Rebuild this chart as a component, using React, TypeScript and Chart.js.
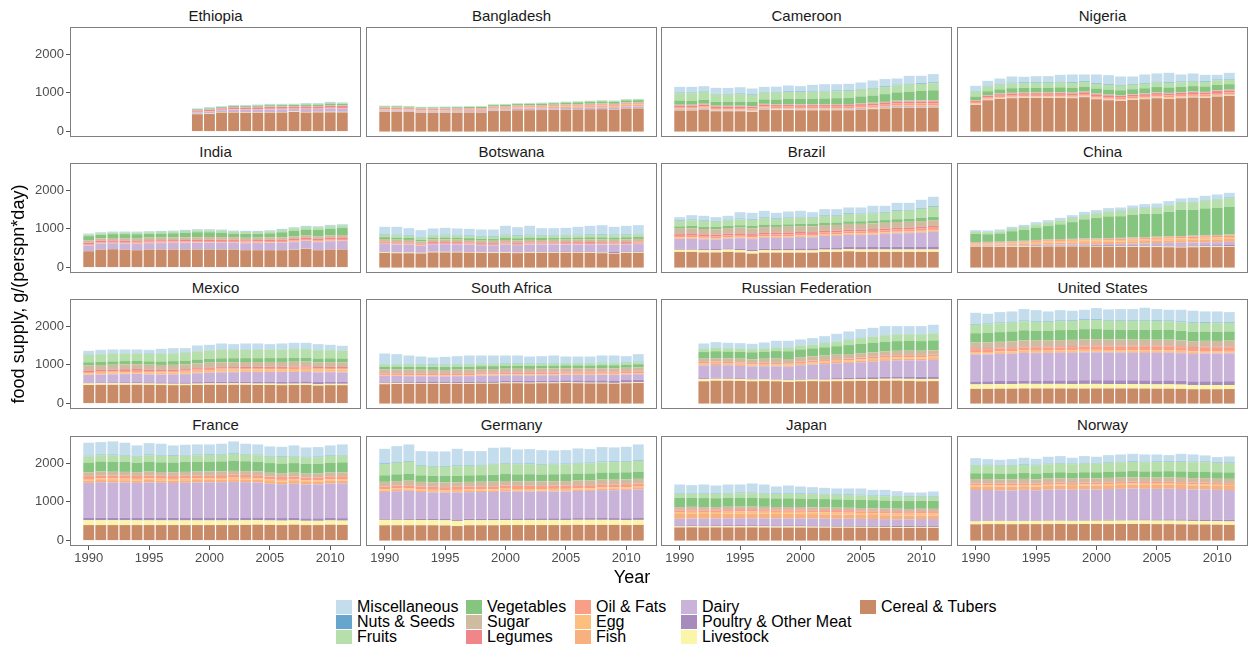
import React, { useEffect, useRef } from "react";
import { Chart, registerables } from "chart.js";
Chart.register(...registerables);

// ---------- data ----------
const YEARS = [1990, 1991, 1992, 1993, 1994, 1995, 1996, 1997, 1998, 1999, 2000, 2001, 2002, 2003, 2004, 2005, 2006, 2007, 2008, 2009, 2010, 2011];
const X_TICKS = [1990, 1995, 2000, 2005, 2010];
const Y_TICKS = [0, 1000, 2000];

// legend order (top of the stack first)
const CATEGORY_KEYS = ["misc", "nuts", "fruits", "veg", "sugar", "legumes", "oil", "egg", "fish", "dairy", "poultry", "livestock", "cereal"];
const CATEGORY_LABELS = ["Miscellaneous", "Nuts & Seeds", "Fruits", "Vegetables", "Sugar", "Legumes", "Oil & Fats", "Egg", "Fish", "Dairy", "Poultry & Other Meat", "Livestock", "Cereal & Tubers"];
const CATEGORY_COLORS = ["#c4ddec", "#67a5cf", "#b6dfac", "#85c57f", "#cfbb9f", "#f0868a", "#f99f88", "#fcbf7d", "#f6b17f", "#c9b3d8", "#a88bbd", "#fbf5aa", "#c98b67"];

type Series = Record<string, (number | null)[]>;
const N9 = [null, null, null, null, null, null, null, null, null];
const N2 = [null, null];

const ETHIOPIA: Series = {
  cereal: [...N9, 448, 455, 490, 492, 485, 487, 490, 492, 505, 492, 495, 497, 495],
  livestock: [...N9, 10, 10, 11, 11, 11, 12, 12, 12, 12, 13, 13, 13, 13],
  poultry: [...N9, 2, 2, 2, 2, 2, 2, 2, 2, 2, 2, 2, 2, 2],
  dairy: [...N9, 38, 45, 48, 60, 62, 65, 68, 68, 62, 75, 72, 85, 82],
  fish: [...N9, 1, 1, 1, 1, 1, 1, 1, 1, 1, 1, 1, 1, 1],
  egg: [...N9, 1, 1, 1, 1, 1, 1, 1, 1, 1, 1, 1, 1, 1],
  oil: [...N9, 12, 12, 13, 14, 14, 15, 15, 15, 15, 16, 16, 17, 17],
  legumes: [...N9, 30, 34, 32, 42, 40, 42, 45, 44, 44, 46, 45, 50, 48],
  sugar: [...N9, 12, 12, 12, 13, 14, 14, 15, 15, 15, 16, 16, 17, 17],
  veg: [...N9, 20, 25, 20, 25, 26, 30, 32, 33, 30, 35, 35, 40, 38],
  fruits: [...N9, 8, 10, 10, 10, 12, 12, 14, 14, 14, 15, 15, 18, 17],
  nuts: [...N9, 4, 5, 6, 6, 6, 6, 6, 6, 6, 6, 6, 7, 7],
  misc: [...N9, 9, 17, 8, 8, 10, 11, 15, 14, 12, 13, 14, 20, 18],
};

const BANGLADESH: Series = {
  cereal: [510, 512, 505, 485, 485, 485, 487, 490, 490, 530, 535, 550, 552, 555, 560, 565, 568, 575, 578, 565, 595, 598],
  livestock: [4, 4, 4, 4, 4, 4, 4, 4, 4, 4, 4, 4, 4, 4, 4, 4, 4, 4, 4, 4, 5, 5],
  poultry: [3, 3, 3, 3, 3, 3, 3, 3, 3, 3, 3, 3, 3, 3, 4, 4, 4, 4, 4, 4, 4, 4],
  dairy: [30, 30, 30, 30, 30, 30, 30, 31, 31, 32, 32, 33, 33, 34, 35, 36, 37, 38, 40, 40, 42, 42],
  fish: [22, 22, 23, 23, 24, 25, 26, 27, 28, 30, 32, 33, 34, 35, 36, 38, 40, 40, 42, 42, 44, 45],
  egg: [2, 2, 2, 2, 2, 3, 3, 3, 3, 3, 3, 3, 3, 3, 4, 4, 4, 4, 4, 5, 5, 5],
  oil: [12, 12, 13, 13, 13, 14, 14, 14, 15, 16, 16, 17, 17, 18, 18, 18, 19, 20, 20, 21, 22, 22],
  legumes: [22, 22, 21, 20, 20, 19, 18, 18, 17, 17, 16, 16, 16, 15, 15, 15, 15, 15, 16, 16, 16, 16],
  sugar: [18, 18, 17, 17, 17, 18, 18, 18, 18, 18, 18, 18, 18, 18, 18, 18, 19, 19, 20, 20, 20, 20],
  veg: [25, 25, 24, 24, 24, 25, 26, 26, 27, 30, 31, 33, 34, 36, 38, 42, 45, 48, 50, 52, 54, 55],
  fruits: [15, 15, 14, 13, 13, 14, 14, 15, 15, 17, 17, 18, 18, 18, 19, 21, 22, 22, 22, 22, 24, 24],
  nuts: [1, 1, 1, 1, 1, 1, 1, 1, 1, 1, 1, 1, 1, 1, 1, 1, 1, 1, 2, 2, 2, 2],
  misc: [5, 5, 5, 5, 5, 5, 6, 6, 6, 6, 6, 6, 6, 7, 7, 7, 7, 7, 8, 8, 8, 8],
};

const CAMEROON: Series = {
  cereal: [545, 545, 570, 525, 525, 525, 510, 570, 555, 555, 550, 550, 550, 550, 550, 570, 578, 595, 620, 620, 620, 622],
  livestock: [14, 14, 14, 13, 13, 13, 13, 13, 13, 13, 13, 13, 13, 13, 13, 13, 14, 14, 14, 14, 14, 14],
  poultry: [5, 5, 5, 5, 5, 5, 5, 5, 6, 6, 6, 6, 6, 6, 6, 6, 6, 6, 7, 7, 7, 7],
  dairy: [18, 18, 17, 16, 16, 16, 16, 16, 16, 17, 17, 17, 17, 17, 18, 18, 18, 18, 18, 18, 19, 19],
  fish: [16, 16, 16, 15, 15, 15, 15, 15, 16, 16, 16, 17, 17, 18, 18, 18, 18, 18, 19, 19, 20, 20],
  egg: [3, 3, 3, 3, 3, 3, 3, 3, 3, 3, 3, 3, 3, 3, 3, 3, 3, 3, 3, 3, 3, 3],
  oil: [30, 30, 30, 31, 31, 31, 32, 32, 32, 33, 33, 34, 34, 34, 35, 36, 38, 40, 42, 44, 45, 46],
  legumes: [40, 40, 41, 40, 40, 40, 40, 42, 42, 42, 42, 43, 43, 43, 44, 44, 45, 46, 47, 48, 50, 50],
  sugar: [22, 22, 22, 20, 20, 20, 20, 20, 21, 22, 22, 22, 23, 24, 24, 25, 26, 27, 28, 28, 29, 30],
  veg: [110, 100, 105, 100, 102, 105, 110, 115, 125, 135, 140, 145, 150, 155, 160, 175, 185, 200, 215, 230, 240, 255],
  fruits: [190, 200, 210, 190, 185, 195, 180, 175, 180, 180, 180, 178, 180, 182, 180, 178, 180, 182, 180, 185, 182, 185],
  nuts: [12, 12, 12, 12, 12, 12, 12, 12, 13, 13, 13, 13, 14, 14, 14, 14, 15, 15, 15, 16, 16, 17],
  misc: [150, 150, 127, 159, 160, 165, 156, 137, 139, 155, 140, 166, 174, 165, 169, 167, 193, 192, 162, 208, 196, 215],
};

const NIGERIA: Series = {
  cereal: [690, 810, 845, 862, 870, 870, 870, 870, 862, 888, 836, 810, 793, 819, 836, 862, 845, 862, 879, 870, 905, 922],
  livestock: [10, 10, 10, 10, 10, 10, 10, 10, 10, 10, 10, 10, 10, 10, 10, 10, 10, 10, 10, 10, 10, 10],
  poultry: [3, 3, 3, 3, 3, 3, 3, 3, 3, 3, 3, 3, 3, 3, 3, 3, 3, 3, 3, 3, 3, 3],
  dairy: [10, 10, 9, 9, 9, 9, 9, 9, 9, 9, 9, 9, 9, 9, 9, 9, 9, 9, 9, 9, 9, 9],
  fish: [12, 12, 12, 12, 12, 12, 12, 12, 12, 12, 12, 12, 12, 13, 14, 15, 16, 16, 16, 16, 17, 17],
  egg: [5, 5, 5, 5, 5, 5, 5, 5, 5, 5, 5, 5, 5, 5, 5, 5, 5, 5, 5, 5, 5, 5],
  oil: [35, 38, 40, 40, 40, 40, 40, 40, 40, 42, 42, 42, 42, 42, 44, 45, 45, 45, 46, 46, 47, 47],
  legumes: [35, 38, 40, 42, 42, 42, 42, 45, 45, 45, 45, 45, 45, 45, 45, 45, 48, 48, 48, 48, 50, 50],
  sugar: [15, 16, 17, 17, 17, 18, 18, 18, 18, 18, 18, 18, 18, 18, 18, 18, 18, 18, 18, 18, 19, 19],
  veg: [90, 100, 110, 120, 120, 125, 125, 130, 130, 130, 132, 132, 130, 130, 135, 138, 140, 140, 140, 140, 142, 142],
  fruits: [130, 125, 125, 125, 125, 125, 125, 125, 122, 122, 120, 120, 120, 118, 118, 118, 118, 118, 118, 118, 118, 118],
  nuts: [12, 13, 14, 15, 15, 15, 15, 16, 16, 16, 16, 16, 16, 16, 16, 16, 16, 16, 16, 16, 16, 16],
  misc: [134, 130, 140, 162, 147, 157, 157, 183, 202, 174, 226, 235, 219, 194, 221, 216, 244, 184, 192, 167, 125, 159],
};

const INDIA: Series = {
  cereal: [422, 466, 474, 466, 448, 466, 466, 466, 466, 466, 466, 466, 466, 448, 448, 448, 448, 457, 483, 448, 466, 466],
  livestock: [4, 4, 4, 4, 4, 4, 4, 4, 4, 4, 4, 4, 4, 4, 4, 4, 4, 4, 4, 4, 4, 4],
  poultry: [1, 1, 1, 1, 1, 2, 2, 2, 2, 2, 2, 3, 3, 3, 3, 4, 4, 4, 5, 5, 5, 5],
  dairy: [145, 150, 150, 152, 155, 158, 160, 162, 165, 168, 170, 172, 172, 175, 178, 182, 185, 190, 195, 200, 205, 210],
  fish: [9, 9, 9, 9, 10, 10, 10, 10, 10, 10, 11, 11, 11, 12, 12, 12, 12, 13, 13, 13, 14, 14],
  egg: [2, 2, 2, 2, 3, 3, 3, 3, 3, 3, 3, 3, 4, 4, 4, 4, 4, 4, 4, 5, 5, 5],
  oil: [22, 22, 23, 23, 24, 25, 26, 26, 27, 28, 28, 28, 28, 29, 30, 30, 31, 32, 32, 33, 34, 34],
  legumes: [40, 40, 37, 37, 36, 38, 36, 36, 35, 34, 35, 33, 33, 30, 32, 33, 34, 36, 37, 36, 38, 40],
  sugar: [62, 62, 64, 66, 66, 67, 67, 68, 68, 68, 68, 66, 64, 63, 62, 62, 62, 62, 62, 62, 62, 62],
  veg: [105, 93, 100, 104, 115, 100, 105, 109, 119, 131, 125, 116, 93, 101, 96, 106, 128, 149, 148, 168, 172, 181],
  fruits: [38, 38, 40, 40, 42, 40, 42, 44, 46, 48, 50, 52, 50, 50, 50, 52, 56, 60, 62, 62, 64, 66],
  nuts: [7, 7, 7, 7, 7, 7, 7, 7, 7, 7, 7, 7, 7, 7, 7, 7, 8, 8, 8, 8, 8, 8],
  misc: [22, 20, 20, 20, 20, 20, 20, 20, 22, 22, 22, 22, 22, 22, 22, 22, 24, 24, 25, 25, 26, 26],
};

const BOTSWANA: Series = {
  cereal: [380, 370, 370, 365, 390, 390, 390, 385, 380, 375, 378, 372, 378, 382, 380, 382, 382, 378, 372, 360, 378, 380],
  livestock: [18, 18, 18, 17, 17, 17, 17, 17, 16, 16, 16, 16, 16, 16, 16, 16, 16, 16, 15, 15, 15, 15],
  poultry: [10, 10, 10, 10, 10, 12, 12, 12, 12, 14, 14, 16, 16, 16, 18, 18, 18, 20, 22, 30, 22, 22],
  dairy: [200, 195, 190, 170, 185, 185, 180, 175, 170, 170, 180, 175, 180, 175, 180, 180, 180, 185, 185, 185, 185, 190],
  fish: [4, 4, 4, 4, 4, 4, 4, 4, 4, 4, 4, 4, 4, 4, 4, 4, 4, 4, 4, 4, 4, 4],
  egg: [4, 4, 4, 4, 4, 4, 4, 4, 4, 4, 4, 4, 4, 4, 4, 4, 4, 4, 5, 5, 5, 5],
  oil: [25, 25, 25, 22, 25, 25, 25, 25, 25, 25, 25, 25, 25, 25, 25, 28, 28, 28, 28, 28, 28, 30],
  legumes: [25, 25, 25, 22, 24, 24, 24, 24, 22, 22, 24, 24, 24, 24, 24, 24, 24, 24, 24, 24, 24, 24],
  sugar: [70, 70, 68, 60, 65, 66, 66, 65, 62, 62, 68, 66, 68, 65, 66, 66, 68, 68, 70, 68, 68, 70],
  veg: [50, 52, 50, 45, 50, 50, 50, 48, 45, 45, 60, 55, 58, 52, 52, 50, 52, 55, 55, 55, 55, 56],
  fruits: [60, 62, 58, 55, 55, 58, 58, 55, 55, 55, 62, 60, 62, 58, 56, 58, 58, 62, 62, 62, 62, 62],
  nuts: [12, 12, 12, 12, 12, 12, 12, 12, 12, 12, 12, 12, 12, 12, 12, 12, 12, 12, 12, 12, 12, 12],
  misc: [194, 205, 183, 180, 168, 179, 167, 174, 176, 179, 231, 214, 231, 184, 180, 184, 206, 222, 241, 204, 220, 225],
};

const BRAZIL: Series = {
  cereal: [405, 405, 390, 390, 405, 390, 360, 385, 385, 385, 385, 385, 405, 405, 420, 405, 405, 405, 405, 405, 405, 405],
  livestock: [55, 55, 58, 58, 60, 62, 62, 62, 62, 60, 60, 58, 58, 58, 60, 62, 62, 62, 62, 62, 62, 62],
  poultry: [25, 25, 28, 30, 30, 35, 38, 40, 42, 45, 48, 50, 52, 55, 58, 62, 65, 68, 70, 72, 75, 78],
  dairy: [255, 260, 255, 245, 255, 270, 275, 280, 280, 285, 295, 290, 300, 300, 305, 310, 320, 330, 345, 350, 360, 380],
  fish: [18, 18, 18, 18, 18, 18, 20, 20, 20, 20, 20, 20, 20, 20, 20, 22, 22, 22, 22, 22, 24, 24],
  egg: [20, 20, 20, 20, 20, 20, 20, 20, 20, 20, 20, 20, 20, 20, 20, 22, 22, 22, 22, 22, 24, 24],
  oil: [40, 40, 42, 42, 42, 42, 44, 44, 45, 45, 45, 46, 48, 48, 50, 50, 52, 52, 55, 55, 55, 56],
  legumes: [45, 45, 45, 45, 45, 45, 45, 45, 45, 45, 45, 45, 45, 45, 45, 45, 45, 45, 45, 45, 46, 46],
  sugar: [140, 145, 140, 140, 145, 150, 150, 150, 150, 150, 150, 150, 150, 150, 150, 150, 150, 150, 150, 150, 150, 150],
  veg: [60, 60, 60, 60, 60, 62, 62, 62, 60, 62, 62, 62, 62, 62, 65, 68, 68, 70, 72, 75, 80, 85],
  fruits: [140, 150, 150, 140, 140, 155, 155, 170, 145, 160, 165, 160, 175, 175, 190, 180, 190, 190, 215, 215, 240, 260],
  nuts: [12, 12, 12, 12, 12, 12, 12, 12, 12, 12, 12, 12, 12, 13, 13, 14, 14, 14, 15, 15, 16, 17],
  misc: [87, 118, 118, 102, 104, 170, 171, 176, 148, 159, 159, 133, 162, 158, 156, 162, 180, 165, 194, 184, 213, 241],
};

const CHINA: Series = {
  cereal: [540, 540, 535, 535, 535, 540, 545, 545, 545, 545, 540, 540, 535, 535, 530, 530, 525, 520, 525, 530, 530, 535],
  livestock: [12, 12, 13, 14, 15, 16, 16, 17, 17, 17, 17, 17, 17, 17, 17, 17, 18, 18, 18, 18, 18, 18],
  poultry: [8, 9, 10, 11, 13, 15, 16, 17, 18, 19, 20, 21, 22, 23, 24, 25, 26, 27, 28, 29, 30, 30],
  dairy: [10, 10, 11, 12, 14, 16, 17, 18, 20, 22, 25, 30, 38, 45, 55, 62, 70, 75, 75, 75, 78, 80],
  fish: [25, 27, 30, 34, 38, 42, 46, 50, 52, 54, 55, 56, 57, 58, 60, 62, 65, 68, 70, 72, 74, 76],
  egg: [18, 19, 21, 24, 28, 34, 40, 38, 39, 41, 42, 43, 44, 44, 45, 46, 46, 47, 48, 49, 50, 50],
  oil: [18, 19, 20, 21, 22, 23, 24, 25, 25, 26, 27, 28, 29, 30, 31, 32, 33, 34, 35, 36, 37, 38],
  legumes: [6, 6, 6, 6, 5, 5, 5, 5, 5, 5, 5, 5, 5, 5, 5, 5, 5, 5, 5, 5, 5, 5],
  sugar: [22, 22, 22, 22, 22, 22, 22, 22, 20, 20, 20, 20, 20, 20, 20, 20, 20, 20, 20, 20, 20, 20],
  veg: [212, 196, 213, 260, 287, 321, 341, 380, 432, 496, 528, 562, 559, 588, 601, 592, 629, 677, 669, 694, 704, 718],
  fruits: [50, 52, 55, 62, 70, 80, 90, 100, 108, 118, 125, 130, 138, 145, 152, 160, 170, 180, 190, 200, 212, 225],
  nuts: [5, 5, 5, 6, 6, 6, 6, 7, 7, 7, 7, 8, 8, 8, 8, 9, 9, 9, 9, 10, 10, 10],
  misc: [40, 40, 42, 45, 48, 52, 56, 60, 65, 70, 72, 75, 80, 85, 90, 95, 100, 105, 110, 115, 120, 125],
};

const MEXICO: Series = {
  cereal: [480, 485, 485, 485, 485, 482, 478, 475, 475, 480, 485, 485, 485, 485, 480, 480, 475, 478, 480, 465, 475, 475],
  livestock: [40, 38, 38, 38, 38, 36, 36, 36, 35, 35, 35, 35, 36, 36, 36, 36, 36, 36, 36, 35, 35, 35],
  poultry: [22, 24, 26, 28, 30, 30, 32, 34, 36, 38, 40, 42, 44, 46, 48, 50, 52, 54, 56, 56, 56, 57],
  dairy: [195, 200, 205, 210, 210, 205, 200, 205, 215, 230, 240, 245, 245, 248, 250, 250, 252, 250, 250, 250, 245, 240],
  fish: [15, 15, 15, 15, 15, 15, 14, 14, 14, 15, 15, 16, 16, 17, 17, 18, 18, 19, 19, 19, 19, 19],
  egg: [30, 32, 34, 36, 38, 40, 42, 44, 46, 48, 50, 52, 52, 52, 52, 53, 54, 54, 55, 55, 55, 55],
  oil: [30, 30, 30, 30, 30, 30, 30, 30, 30, 32, 32, 32, 32, 32, 32, 33, 33, 34, 34, 34, 34, 34],
  legumes: [45, 45, 45, 45, 45, 42, 40, 38, 38, 35, 35, 33, 32, 32, 32, 30, 30, 30, 30, 30, 30, 30],
  sugar: [125, 125, 125, 125, 125, 125, 125, 125, 125, 125, 125, 125, 125, 125, 125, 125, 125, 125, 125, 120, 120, 120],
  veg: [85, 85, 85, 85, 85, 85, 90, 95, 95, 100, 100, 105, 105, 100, 100, 100, 100, 100, 100, 100, 100, 100],
  fruits: [190, 195, 200, 195, 190, 190, 200, 200, 200, 210, 210, 220, 215, 215, 215, 220, 220, 225, 220, 215, 210, 205],
  nuts: [6, 6, 6, 6, 6, 6, 6, 6, 6, 6, 6, 6, 6, 6, 6, 6, 6, 6, 6, 6, 6, 6],
  misc: [99, 108, 103, 99, 100, 102, 121, 129, 116, 146, 144, 156, 142, 158, 159, 134, 151, 158, 158, 150, 132, 115],
};

const SOUTH_AFRICA: Series = {
  cereal: [500, 505, 505, 510, 510, 505, 510, 505, 515, 515, 525, 525, 520, 525, 525, 530, 525, 520, 520, 515, 525, 530],
  livestock: [22, 21, 20, 19, 18, 18, 18, 18, 18, 18, 18, 18, 18, 18, 18, 18, 18, 18, 18, 18, 18, 18],
  poultry: [25, 26, 27, 28, 30, 32, 34, 36, 38, 40, 42, 44, 46, 48, 50, 52, 55, 58, 60, 62, 64, 66],
  dairy: [165, 160, 155, 150, 145, 145, 145, 150, 150, 148, 145, 142, 140, 140, 140, 140, 140, 140, 142, 142, 142, 145],
  fish: [15, 15, 15, 15, 15, 15, 15, 15, 15, 15, 15, 15, 15, 15, 15, 15, 15, 15, 15, 15, 15, 15],
  egg: [13, 13, 13, 13, 13, 13, 14, 14, 14, 14, 14, 14, 15, 15, 15, 15, 16, 16, 16, 16, 16, 16],
  oil: [35, 35, 35, 35, 35, 35, 36, 36, 36, 36, 38, 38, 38, 40, 40, 40, 40, 40, 40, 40, 42, 42],
  legumes: [15, 15, 15, 15, 15, 15, 15, 15, 15, 15, 15, 15, 15, 15, 15, 15, 15, 15, 15, 15, 15, 15],
  sugar: [95, 95, 95, 90, 90, 90, 90, 90, 90, 90, 88, 88, 88, 88, 88, 88, 88, 88, 88, 88, 88, 88],
  veg: [70, 70, 72, 75, 75, 75, 75, 75, 75, 75, 75, 75, 75, 75, 75, 75, 75, 75, 78, 78, 80, 82],
  fruits: [55, 55, 55, 50, 50, 50, 50, 50, 50, 50, 50, 50, 48, 48, 48, 48, 48, 48, 50, 50, 50, 52],
  nuts: [10, 10, 10, 10, 10, 10, 10, 10, 10, 10, 10, 10, 10, 10, 10, 10, 10, 10, 10, 10, 10, 10],
  misc: [273, 256, 224, 205, 184, 204, 212, 227, 215, 215, 206, 207, 187, 187, 202, 169, 170, 172, 189, 192, 159, 197],
};

const RUSSIA: Series = {
  cereal: [...N2, 575, 590, 590, 585, 575, 580, 575, 560, 575, 580, 575, 578, 580, 585, 585, 590, 590, 585, 575, 580],
  livestock: [...N2, 55, 52, 50, 48, 45, 43, 42, 40, 40, 40, 42, 44, 45, 46, 48, 50, 52, 54, 55, 56],
  poultry: [...N2, 25, 22, 20, 20, 20, 22, 24, 22, 25, 28, 32, 36, 40, 45, 48, 52, 55, 58, 60, 62],
  dairy: [...N2, 330, 330, 330, 320, 320, 320, 320, 330, 350, 360, 370, 380, 385, 390, 400, 410, 420, 420, 425, 430],
  fish: [...N2, 30, 28, 25, 25, 25, 25, 25, 25, 28, 30, 32, 35, 38, 40, 42, 45, 45, 45, 45, 45],
  egg: [...N2, 30, 30, 30, 30, 30, 30, 30, 30, 30, 30, 32, 32, 33, 34, 35, 36, 37, 38, 38, 38],
  oil: [...N2, 30, 30, 30, 30, 30, 32, 34, 34, 36, 38, 40, 42, 44, 46, 48, 48, 48, 50, 50, 50],
  legumes: [...N2, 5, 5, 5, 5, 5, 5, 5, 5, 5, 5, 5, 5, 5, 5, 5, 5, 5, 5, 5, 5],
  sugar: [...N2, 80, 85, 90, 95, 95, 100, 105, 105, 110, 110, 110, 110, 110, 110, 110, 110, 110, 110, 110, 110],
  veg: [...N2, 170, 180, 175, 180, 180, 185, 195, 200, 200, 205, 215, 220, 230, 240, 245, 250, 250, 250, 250, 255],
  fruits: [...N2, 85, 90, 85, 80, 80, 85, 85, 90, 95, 100, 110, 120, 135, 150, 160, 170, 175, 175, 175, 180],
  nuts: [...N2, 5, 5, 5, 5, 5, 5, 5, 5, 5, 5, 5, 5, 5, 5, 5, 6, 6, 6, 6, 6],
  misc: [...N2, 132, 139, 134, 137, 133, 146, 176, 175, 156, 159, 173, 195, 212, 226, 226, 228, 207, 204, 206, 217],
};

const UNITED_STATES: Series = {
  cereal: [380, 380, 385, 385, 390, 390, 390, 390, 388, 388, 390, 390, 390, 390, 388, 385, 385, 380, 370, 370, 370, 375],
  livestock: [115, 118, 118, 118, 120, 118, 118, 118, 118, 120, 118, 115, 112, 112, 110, 110, 112, 110, 105, 108, 105, 105],
  poultry: [75, 78, 80, 82, 85, 85, 88, 90, 92, 95, 95, 98, 100, 100, 102, 102, 102, 100, 98, 98, 98, 98],
  dairy: [700, 695, 700, 705, 715, 710, 710, 715, 715, 720, 720, 715, 715, 710, 710, 715, 715, 712, 712, 720, 720, 720],
  fish: [20, 20, 20, 20, 20, 20, 20, 20, 20, 22, 22, 22, 22, 22, 22, 22, 22, 22, 22, 22, 22, 22],
  egg: [40, 40, 40, 40, 40, 40, 40, 40, 40, 42, 42, 42, 42, 42, 42, 42, 42, 40, 40, 40, 40, 40],
  oil: [75, 75, 78, 80, 82, 80, 80, 82, 85, 88, 90, 90, 92, 95, 95, 95, 95, 92, 92, 90, 90, 92],
  legumes: [22, 22, 22, 22, 22, 22, 22, 22, 22, 22, 22, 22, 22, 22, 22, 22, 22, 22, 22, 22, 22, 22],
  sugar: [150, 150, 152, 155, 158, 160, 160, 162, 165, 165, 162, 160, 158, 158, 158, 155, 155, 152, 150, 150, 150, 150],
  veg: [240, 245, 250, 255, 260, 255, 255, 258, 258, 260, 262, 258, 255, 255, 258, 255, 250, 248, 245, 240, 240, 238],
  fruits: [220, 225, 230, 232, 235, 232, 230, 232, 232, 235, 235, 230, 230, 232, 232, 230, 228, 225, 222, 220, 220, 220],
  nuts: [15, 15, 15, 15, 15, 15, 15, 15, 15, 15, 15, 15, 15, 15, 15, 15, 15, 15, 15, 15, 15, 15],
  misc: [293, 256, 272, 270, 298, 287, 251, 270, 247, 250, 293, 274, 287, 287, 320, 292, 279, 304, 304, 284, 287, 265],
};

const FRANCE: Series = {
  cereal: [400, 400, 400, 400, 400, 400, 400, 400, 400, 400, 400, 400, 400, 405, 410, 405, 400, 410, 400, 400, 410, 405],
  livestock: [125, 125, 125, 125, 122, 122, 122, 120, 120, 120, 120, 120, 120, 118, 118, 115, 115, 112, 110, 110, 110, 110],
  poultry: [60, 62, 64, 66, 68, 70, 70, 72, 72, 74, 74, 72, 70, 70, 68, 66, 66, 65, 64, 64, 64, 64],
  dairy: [905, 920, 910, 905, 900, 910, 900, 895, 900, 905, 910, 915, 925, 915, 905, 880, 875, 880, 870, 875, 890, 900],
  fish: [60, 60, 62, 62, 62, 64, 64, 64, 66, 66, 66, 68, 68, 70, 70, 70, 70, 70, 68, 68, 68, 68],
  egg: [40, 40, 40, 40, 40, 40, 40, 40, 40, 40, 40, 40, 40, 40, 40, 40, 40, 40, 40, 40, 40, 40],
  oil: [75, 75, 75, 75, 75, 75, 75, 75, 75, 75, 75, 75, 75, 75, 75, 75, 75, 75, 75, 75, 75, 75],
  legumes: [5, 5, 5, 5, 5, 5, 5, 5, 5, 5, 5, 5, 5, 5, 5, 5, 5, 5, 5, 5, 5, 5],
  sugar: [95, 95, 95, 95, 95, 95, 95, 95, 95, 95, 95, 95, 95, 95, 95, 95, 95, 95, 95, 95, 95, 95],
  veg: [250, 260, 260, 255, 240, 255, 250, 250, 255, 255, 255, 255, 265, 255, 250, 250, 248, 248, 250, 250, 255, 258],
  fruits: [160, 165, 170, 165, 165, 170, 170, 168, 168, 170, 170, 172, 175, 172, 168, 168, 168, 170, 172, 172, 175, 175],
  nuts: [12, 12, 12, 12, 12, 12, 12, 12, 12, 12, 12, 12, 12, 12, 12, 12, 12, 12, 12, 12, 12, 12],
  misc: [339, 324, 342, 321, 273, 299, 297, 261, 266, 266, 261, 271, 310, 268, 267, 250, 253, 275, 244, 248, 258, 276],
};

const GERMANY: Series = {
  cereal: [395, 395, 395, 395, 395, 390, 375, 395, 395, 395, 400, 400, 400, 400, 400, 400, 405, 405, 405, 405, 400, 405],
  livestock: [140, 140, 138, 136, 136, 134, 132, 130, 130, 130, 130, 132, 132, 132, 132, 132, 130, 130, 130, 128, 128, 128],
  poultry: [30, 30, 32, 32, 34, 34, 36, 36, 38, 40, 40, 40, 42, 42, 44, 44, 46, 46, 48, 48, 50, 50],
  dairy: [690, 710, 720, 690, 680, 680, 700, 690, 690, 690, 700, 690, 690, 685, 690, 690, 700, 700, 720, 720, 730, 740],
  fish: [30, 30, 30, 30, 30, 30, 32, 32, 32, 32, 34, 34, 34, 34, 34, 34, 34, 34, 34, 34, 34, 34],
  egg: [36, 36, 36, 34, 34, 34, 34, 34, 34, 34, 34, 34, 34, 34, 34, 34, 34, 34, 34, 34, 34, 34],
  oil: [75, 75, 75, 78, 78, 78, 78, 78, 80, 80, 80, 80, 80, 80, 80, 82, 82, 82, 82, 82, 82, 82],
  legumes: [5, 5, 5, 5, 5, 5, 5, 5, 5, 5, 5, 5, 5, 5, 5, 5, 5, 5, 5, 5, 5, 5],
  sugar: [115, 115, 115, 115, 115, 115, 115, 115, 115, 115, 115, 115, 115, 115, 115, 115, 115, 115, 115, 115, 115, 115],
  veg: [170, 175, 180, 170, 165, 170, 165, 170, 170, 175, 180, 180, 182, 180, 178, 180, 180, 182, 185, 185, 185, 185],
  fruits: [290, 300, 310, 250, 240, 240, 250, 250, 250, 270, 270, 260, 260, 255, 255, 255, 260, 262, 265, 270, 275, 280],
  nuts: [15, 15, 15, 15, 15, 15, 15, 15, 15, 15, 15, 15, 15, 15, 15, 15, 15, 15, 15, 15, 15, 15],
  misc: [379, 414, 432, 360, 375, 377, 433, 360, 356, 415, 402, 368, 373, 359, 345, 350, 373, 352, 376, 364, 369, 410],
};

const JAPAN: Series = {
  cereal: [340, 342, 338, 340, 340, 340, 340, 338, 336, 336, 336, 334, 334, 332, 332, 330, 330, 328, 326, 325, 328, 328],
  livestock: [25, 26, 27, 28, 29, 29, 28, 28, 28, 29, 29, 26, 25, 24, 24, 24, 24, 24, 24, 24, 24, 24],
  poultry: [27, 28, 28, 29, 30, 30, 30, 30, 30, 30, 31, 31, 31, 32, 32, 32, 32, 32, 33, 33, 34, 34],
  dairy: [170, 172, 172, 172, 175, 178, 178, 178, 178, 178, 178, 178, 176, 176, 175, 174, 172, 170, 168, 168, 170, 170],
  fish: [125, 125, 122, 120, 122, 122, 122, 120, 118, 118, 117, 115, 112, 110, 108, 105, 103, 100, 98, 96, 95, 93],
  egg: [48, 48, 49, 49, 49, 49, 49, 49, 49, 49, 49, 48, 48, 48, 48, 48, 48, 48, 48, 47, 47, 47],
  oil: [42, 42, 42, 42, 42, 43, 43, 43, 43, 43, 43, 43, 43, 43, 43, 43, 42, 42, 42, 41, 41, 41],
  legumes: [18, 18, 18, 18, 18, 18, 18, 18, 18, 18, 18, 18, 18, 18, 18, 18, 18, 18, 18, 18, 18, 18],
  sugar: [70, 70, 69, 68, 67, 67, 67, 66, 66, 66, 66, 66, 66, 66, 66, 66, 65, 65, 65, 64, 64, 64],
  veg: [235, 232, 232, 228, 228, 230, 228, 225, 222, 224, 220, 220, 218, 216, 212, 212, 210, 208, 206, 204, 204, 206],
  fruits: [110, 110, 114, 114, 116, 118, 120, 118, 116, 118, 118, 120, 120, 118, 118, 118, 116, 113, 108, 108, 108, 108],
  nuts: [12, 12, 12, 12, 12, 12, 12, 12, 12, 12, 12, 12, 12, 12, 12, 12, 12, 12, 12, 12, 12, 12],
  misc: [226, 206, 225, 202, 220, 212, 239, 223, 181, 201, 180, 168, 159, 150, 157, 163, 138, 150, 128, 101, 96, 122],
};

const NORWAY: Series = {
  cereal: [420, 425, 425, 422, 425, 425, 425, 428, 425, 428, 428, 425, 428, 428, 428, 425, 425, 420, 415, 415, 410, 405],
  livestock: [75, 80, 82, 80, 82, 82, 85, 85, 85, 85, 85, 88, 88, 90, 90, 90, 90, 92, 92, 90, 90, 90],
  poultry: [10, 10, 10, 10, 12, 12, 14, 15, 16, 18, 20, 22, 24, 26, 28, 30, 32, 34, 36, 38, 38, 40],
  dairy: [800, 790, 780, 785, 790, 780, 790, 795, 785, 790, 785, 795, 795, 800, 790, 790, 790, 785, 780, 780, 770, 770],
  fish: [95, 95, 95, 95, 95, 95, 98, 98, 98, 100, 100, 100, 102, 102, 102, 104, 104, 104, 104, 104, 104, 104],
  egg: [28, 28, 28, 28, 28, 28, 28, 28, 28, 28, 28, 28, 28, 28, 28, 28, 28, 28, 28, 28, 28, 28],
  oil: [45, 45, 45, 45, 45, 45, 45, 45, 45, 45, 45, 45, 45, 45, 45, 45, 45, 45, 45, 45, 45, 45],
  legumes: [5, 5, 5, 5, 5, 5, 5, 5, 5, 5, 5, 5, 5, 5, 5, 5, 5, 5, 5, 5, 5, 5],
  sugar: [110, 110, 110, 110, 110, 110, 110, 110, 110, 110, 110, 110, 110, 108, 108, 108, 108, 108, 108, 108, 106, 106],
  veg: [150, 150, 150, 152, 152, 152, 155, 155, 155, 155, 158, 160, 160, 162, 162, 162, 165, 165, 165, 168, 168, 168],
  fruits: [200, 205, 205, 205, 210, 210, 215, 220, 220, 225, 225, 230, 235, 235, 235, 240, 240, 245, 245, 245, 240, 240],
  nuts: [12, 12, 12, 12, 12, 12, 12, 12, 12, 12, 12, 12, 12, 12, 12, 12, 12, 12, 12, 12, 12, 12],
  misc: [179, 148, 139, 154, 172, 156, 182, 185, 154, 180, 163, 187, 192, 200, 191, 185, 163, 198, 189, 160, 139, 159],
};

const COUNTRY_NAMES = ["Ethiopia", "Bangladesh", "Cameroon", "Nigeria", "India", "Botswana", "Brazil", "China", "Mexico", "South Africa", "Russian Federation", "United States", "France", "Germany", "Japan", "Norway"];
const COUNTRY_DATA = [ETHIOPIA, BANGLADESH, CAMEROON, NIGERIA, INDIA, BOTSWANA, BRAZIL, CHINA, MEXICO, SOUTH_AFRICA, RUSSIA, UNITED_STATES, FRANCE, GERMANY, JAPAN, NORWAY];

// ---------- layout ----------
const FONT = "'Liberation Sans', Arial, Helvetica, sans-serif";
const COL_X = [70, 366, 661, 957];
const ROW_Y = [27, 163, 299, 436];
const PANEL_W = 291;
const PANEL_H = 110;
const Y_AXIS_W = 62;
const X_AXIS_H = 22;
const Y_MIN = -140;
const Y_MAX = 2700;
const X_MIN = 1988.45;
const X_MAX = 2012.55;

const panelBorder = {
  id: "panelBorder",
  afterDatasetsDraw(chart: any) {
    const { ctx, chartArea: a } = chart;
    ctx.save();
    ctx.strokeStyle = "#7f7f7f";
    ctx.lineWidth = 1;
    ctx.strokeRect(a.left + 0.5, a.top + 0.5, a.right - a.left - 1, a.bottom - a.top - 1);
    ctx.restore();
  },
};

function zeroPadding(s: any) {
  s.paddingTop = 0;
  s.paddingBottom = 0;
  s.paddingLeft = 0;
  s.paddingRight = 0;
}

function Panel({ index }: { index: number }) {
  const ref = useRef<HTMLCanvasElement>(null);
  const col = index % 4;
  const row = Math.floor(index / 4);
  const isLeft = col === 0;
  const isBottom = row === 3;
  const w = PANEL_W + (isLeft ? Y_AXIS_W : 0);
  const h = PANEL_H + (isBottom ? X_AXIS_H : 0);
  const data = COUNTRY_DATA[index];

  useEffect(() => {
    if (!ref.current) return;
    const stackKeys = [...CATEGORY_KEYS].reverse();
    const stackColors = [...CATEGORY_COLORS].reverse();
    const stackLabels = [...CATEGORY_LABELS].reverse();
    const datasets = stackKeys.map((k, i) => ({
      label: stackLabels[i],
      data: YEARS.map((yr, j) => ({ x: yr, y: data[k][j] })).filter((p) => p.y !== null && p.y !== undefined) as any,
      backgroundColor: stackColors[i],
      borderWidth: 0,
      barPercentage: 0.9,
      categoryPercentage: 1,
    }));
    const tickFont = { family: FONT, size: 13 };
    const chart = new Chart(ref.current, {
      type: "bar",
      data: { datasets },
      options: {
        animation: false,
        responsive: false,
        maintainAspectRatio: false,
        layout: { padding: 0 },
        plugins: { legend: { display: false }, tooltip: { enabled: false } },
        scales: {
          x: {
            type: "linear",
            min: X_MIN,
            max: X_MAX,
            offset: false,
            stacked: true,
            display: isBottom,
            grid: { display: true, offset: false, drawOnChartArea: false, drawTicks: true, tickLength: 4, color: "#555555" },
            border: { display: false },
            ticks: { font: tickFont, color: "#4d4d4d", padding: 1, autoSkip: false, maxRotation: 0, callback: (v: any) => String(v) },
            afterBuildTicks: (s: any) => { s.ticks = X_TICKS.map((v) => ({ value: v })); },
            afterFit: (s: any) => { if (isBottom) s.height = X_AXIS_H; zeroPadding(s); },
          },
          y: {
            type: "linear",
            min: Y_MIN,
            max: Y_MAX,
            stacked: true,
            display: isLeft,
            grid: { display: true, drawOnChartArea: false, drawTicks: true, tickLength: 4, color: "#555555" },
            border: { display: false },
            ticks: { font: tickFont, color: "#4d4d4d", padding: 2, autoSkip: false, callback: (v: any) => String(v) },
            afterBuildTicks: (s: any) => { s.ticks = Y_TICKS.map((v) => ({ value: v })); },
            afterFit: (s: any) => { if (isLeft) s.width = Y_AXIS_W; zeroPadding(s); },
          },
        },
      } as any,
      plugins: [panelBorder],
    });
    return () => chart.destroy();
  }, []);

  return (
    <>
      <div
        style={{
          position: "absolute",
          left: COL_X[col],
          top: ROW_Y[row] - 21,
          width: PANEL_W,
          height: 20,
          lineHeight: "20px",
          textAlign: "center",
          fontFamily: FONT,
          fontSize: 15,
          color: "#1a1a1a",
          whiteSpace: "nowrap",
        }}
      >
        {COUNTRY_NAMES[index]}
      </div>
      <canvas
        ref={ref}
        width={w}
        height={h}
        style={{ position: "absolute", left: COL_X[col] - (isLeft ? Y_AXIS_W : 0), top: ROW_Y[row], width: w, height: h }}
      />
    </>
  );
}

const LEGEND_COLUMNS = [[0, 1, 2], [3, 4, 5], [6, 7, 8], [9, 10, 11], [12]];
const LEGEND_X = [336, 466, 575, 681, 860];

function Legend() {
  return (
    <>
      {LEGEND_COLUMNS.map((items, c) =>
        items.map((ci, r) => (
          <React.Fragment key={ci}>
            <div
              style={{
                position: "absolute",
                left: LEGEND_X[c],
                top: 600 + r * 15,
                width: 16,
                height: 14,
                background: CATEGORY_COLORS[ci],
              }}
            />
            <div
              style={{
                position: "absolute",
                left: LEGEND_X[c] + 21,
                top: 599 + r * 15,
                height: 16,
                lineHeight: "16px",
                fontFamily: FONT,
                fontSize: 16,
                color: "#000",
                whiteSpace: "nowrap",
              }}
            >
              {CATEGORY_LABELS[ci]}
            </div>
          </React.Fragment>
        ))
      )}
    </>
  );
}

export default function App() {
  return (
    <div style={{ position: "absolute", left: 0, top: 0, width: 1252, height: 648, background: "#fff", overflow: "hidden" }}>
      {COUNTRY_NAMES.map((_, i) => (
        <Panel key={i} index={i} />
      ))}
      <div
        style={{
          position: "absolute",
          left: 18 - 150,
          top: 294 - 11,
          width: 300,
          height: 22,
          lineHeight: "22px",
          textAlign: "center",
          transform: "rotate(-90deg)",
          fontFamily: FONT,
          fontSize: 18,
          color: "#000",
          whiteSpace: "nowrap",
        }}
      >
        food supply, g/(perspn*day)
      </div>
      <div
        style={{
          position: "absolute",
          left: 632 - 100,
          top: 566,
          width: 200,
          height: 22,
          lineHeight: "22px",
          textAlign: "center",
          fontFamily: FONT,
          fontSize: 18,
          color: "#000",
        }}
      >
        Year
      </div>
      <Legend />
    </div>
  );
}
